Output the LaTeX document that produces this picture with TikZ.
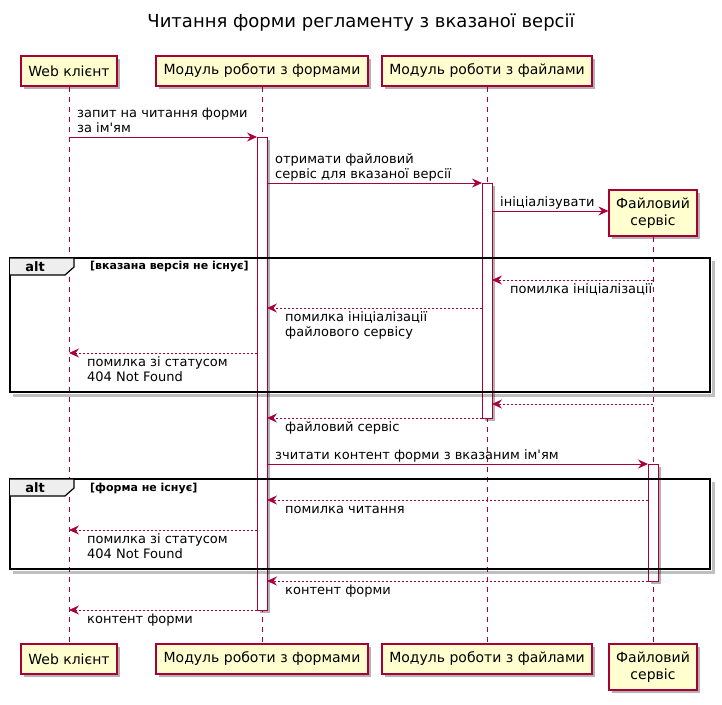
\documentclass[tikz,border=0pt]{standalone}
\usepackage{fontspec}
\newfontfamily\djv{DejaVu Sans}
\usetikzlibrary{arrows.meta,shadows}
\definecolor{pu}{HTML}{A80036}
\definecolor{pufill}{HTML}{FEFECE}
\definecolor{tabfill}{HTML}{EEEEEE}
\tikzset{
  shadowed/.style={drop shadow={shadow xshift=3pt, shadow yshift=-3pt, opacity=0.3, fill=black}},
  part/.style={draw=pu, fill=pufill, line width=1.2pt, font=\djv\fontsize{14}{16.5}\selectfont,
    minimum height=30pt, inner sep=0pt, align=center, shadowed},
  life/.style={draw=pu, line width=0.8pt, dash pattern=on 5pt off 5pt},
  actbar/.style={draw=pu, fill=white, line width=0.8pt, shadowed},
  sync/.style={draw=pu, line width=0.8pt, -{Stealth[length=10pt,width=9pt,inset=3.5pt]}},
  reply/.style={sync, dash pattern=on 2pt off 2pt},
  lbl/.style={font=\djv\fontsize{13}{15}\selectfont, inner sep=0pt, align=left},
  frameline/.style={draw=black, line width=1.5pt},
  frameshadow/.style={draw=black, opacity=0.25, line width=3pt},
  tab/.style={draw=black, fill=tabfill, line width=1.2pt},
  altlbl/.style={font=\djv\fontsize{13}{15}\selectfont\bfseries, inner sep=0pt},
  guard/.style={font=\djv\fontsize{11}{13}\selectfont\bfseries, inner sep=0pt, anchor=west},
}
\begin{document}
\begin{tikzpicture}[x=1pt, y=-1pt]
\useasboundingbox (0,0) rectangle (722,704);

% title
\node[font=\djv\fontsize{18}{21}\selectfont] (title) at (361,23) {Читання форми регламенту з вказаної версії};

% participants (top)
\node[part, minimum width=96pt] (wcT) at (69,71) {Web клієнт};
\node[part, minimum width=212pt] (fmT) at (262,71) {Модуль роботи з формами};
\node[part, minimum width=210pt] (flT) at (487,71) {Модуль роботи з файлами};
\node[part, minimum width=88pt, minimum height=46pt] (fsT) at (653,213) {Файловий\\сервіс};

% participants (bottom)
\node[part, minimum width=96pt] (wcB) at (69,659) {Web клієнт};
\node[part, minimum width=212pt] (fmB) at (262,659) {Модуль роботи з формами};
\node[part, minimum width=210pt] (flB) at (487,659) {Модуль роботи з файлами};
\node[part, minimum width=88pt, minimum height=46pt] (fsB) at (653,667) {Файловий\\сервіс};

% lifelines
\draw[life] (wcT.south) -- (wcB.north);
\draw[life] (fmT.south) -- (fmB.north);
\draw[life] (flT.south) -- (flB.north);
\draw[life] (fsT.south) -- (fsB.north);

% activation bars
\draw[actbar] (257,137) rectangle (267,610);
\draw[actbar] (482,183) rectangle (492,418);
\draw[actbar] (648,464) rectangle (658,581);

% alt frame 1
\draw[frameshadow] (713,261) -- (713,395) -- (13,395);
\draw[frameline] (10,258) rectangle (710,392);
\draw[tab] (10,258) -- (74,258) -- (74,267) -- (65,275) -- (10,275);
\node[altlbl] (alt1) at (35,266.5) {alt};
\node[guard] (g1) at (90,267) {[вказана версія не існує]};

% alt frame 2
\draw[frameshadow] (713,482) -- (713,572) -- (13,572);
\draw[frameline] (10,479) rectangle (710,569);
\draw[tab] (10,479) -- (74,479) -- (74,488) -- (65,496) -- (10,496);
\node[altlbl] (alt2) at (35,487.5) {alt};
\node[guard] (g2) at (90,488) {[форма не існує]};

% message end points
\coordinate (m1a) at (69,137);  \coordinate (m1b) at (257,137);
\coordinate (m2a) at (267,183); \coordinate (m2b) at (482,183);
\coordinate (m3a) at (492,211);
\coordinate (m4a) at (653,280); \coordinate (m4b) at (492,280);
\coordinate (m5a) at (482,308); \coordinate (m5b) at (267,308);
\coordinate (m6a) at (257,353); \coordinate (m6b) at (69,353);
\coordinate (m7a) at (653,404); \coordinate (m7b) at (492,404);
\coordinate (m8a) at (482,418); \coordinate (m8b) at (267,418);
\coordinate (m9a) at (267,464); \coordinate (m9b) at (648,464);
\coordinate (m10a) at (648,500); \coordinate (m10b) at (267,500);
\coordinate (m11a) at (257,530); \coordinate (m11b) at (69,530);
\coordinate (m12a) at (648,581); \coordinate (m12b) at (267,581);
\coordinate (m13a) at (257,610); \coordinate (m13b) at (69,610);

% messages
\draw[sync] (m1a) -- (m1b);
\draw[sync] (m2a) -- (m2b);
\draw[sync] (m3a) -- (fsT.west |- m3a);
\draw[reply] (m4a) -- (m4b);
\draw[reply] (m5a) -- (m5b);
\draw[reply] (m6a) -- (m6b);
\draw[reply] (m7a) -- (m7b);
\draw[reply] (m8a) -- (m8b);
\draw[sync] (m9a) -- (m9b);
\draw[reply] (m10a) -- (m10b);
\draw[reply] (m11a) -- (m11b);
\draw[reply] (m12a) -- (m12b);
\draw[reply] (m13a) -- (m13b);

% labels above arrows
\node[lbl, anchor=south west] (t1) at (77,137.5) {\strut запит на читання форми\\\strut за ім'ям};
\node[lbl, anchor=south west] (t2) at (275,183.5) {\strut отримати файловий\\\strut сервіс для вказаної версії};
\node[lbl, anchor=south west] (t3) at (500,211.5) {\strut ініціалізувати};
\node[lbl, anchor=south west] (t9) at (275,464.5) {\strut зчитати контент форми з вказаним ім'ям};

% labels below arrows
\node[lbl, anchor=north west] (t4) at (510,282.5) {\strut помилка ініціалізації};
\node[lbl, anchor=north west] (t5) at (285,310.5) {\strut помилка ініціалізації\\\strut файлового сервісу};
\node[lbl, anchor=north west] (t6) at (87,355.5) {\strut помилка зі статусом\\\strut 404 Not Found};
\node[lbl, anchor=north west] (t8) at (285,420.5) {\strut файловий сервіс};
\node[lbl, anchor=north west] (t10) at (285,502.5) {\strut помилка читання};
\node[lbl, anchor=north west] (t11) at (87,532.5) {\strut помилка зі статусом\\\strut 404 Not Found};
\node[lbl, anchor=north west] (t12) at (285,583.5) {\strut контент форми};
\node[lbl, anchor=north west] (t13) at (87,612.5) {\strut контент форми};
\end{tikzpicture}
\end{document}
